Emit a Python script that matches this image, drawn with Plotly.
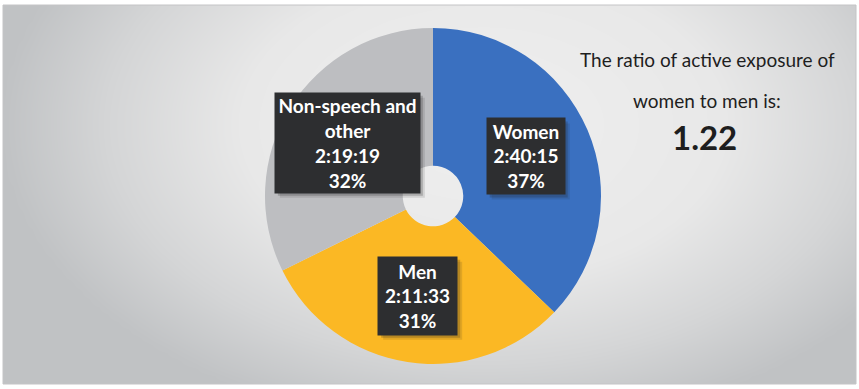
import math
import numpy as np
import plotly.graph_objects as go

# ---- data ----------------------------------------------------------------
categories = ["Women", "Men", "Non-speech and<br>other"]
durations = ["2:40:15", "2:11:33", "2:19:19"]
slice_colors = ["#3A70C0", "#FBB824", "#BDBEC1"]
ratio_lines = ["The ratio of active exposure of", "women to men is:"]


def to_seconds(hms):
    h, m, s = (int(p) for p in hms.split(":"))
    return h * 3600 + m * 60 + s


seconds = [to_seconds(d) for d in durations]
total = sum(seconds)
percents = [round(100 * v / total) for v in seconds]
ratio = seconds[0] / seconds[1]

# ---- canvas geometry (pixels) -------------------------------------------
W, H = 859, 389
frame = dict(x0=3, x1=856, y0=5, y1=384)       # framed panel, top-left origin
pie_cx, pie_cy, pie_r = 433, 196, 168          # donut centre / radius
hole = 0.18
box_sizes = [(78, 76), (79, 78), (145, 100)]   # label box width/height


def px_x(x):
    return x / W


def px_y(y):
    return 1 - y / H


fig = go.Figure()

# ---- soft radial shading behind the chart ---------------------------------
fw = frame["x1"] - frame["x0"]
fh = frame["y1"] - frame["y0"]
gx = np.linspace(0, fw, 90)
gy = np.linspace(0, fh, 50)
GX, GY = np.meshgrid(gx, gy)
shade = np.sqrt(((GX - 480) / 460) ** 2 + ((GY - 120) / 290) ** 2)
shade = np.clip(shade, 0, 1.05)
fig.add_trace(go.Heatmap(
    x=gx, y=gy, z=shade, zmin=0, zmax=1.05, zsmooth="best",
    colorscale=[[0, "#EFEFEF"], [0.5, "#E8E8E8"], [0.78, "#D4D5D6"],
                [1, "#C0C2C4"]],
    showscale=False, hoverinfo="skip", xaxis="x", yaxis="y",
))

# ---- donut ---------------------------------------------------------------
fig.add_trace(go.Pie(
    labels=categories, values=seconds, sort=False, direction="clockwise",
    rotation=0, hole=hole, textinfo="none", hoverinfo="label+percent",
    marker=dict(colors=slice_colors, line=dict(width=0)),
    domain=dict(x=[px_x(pie_cx - pie_r), px_x(pie_cx + pie_r)],
                y=[px_y(pie_cy + pie_r), px_y(pie_cy - pie_r)]),
    showlegend=False,
))

# ---- dark label boxes at each slice's mid angle ---------------------------
label_font = dict(family="Lato, 'Open Sans', sans-serif", size=19,
                  color="white")
cum = 0
for name, dur, pct, v, (bw, bh) in zip(categories, durations, percents,
                                       seconds, box_sizes):
    mid = (cum + v / 2) / total * 2 * math.pi
    cum += v
    r_lab = 0.60 * pie_r
    lx = pie_cx + r_lab * math.sin(mid)
    ly = pie_cy - r_lab * math.cos(mid)
    # soft drop shadow (two layered rectangles)
    for off, alpha in [(5, 0.12), (3, 0.22)]:
        fig.add_shape(
            type="rect", xref="paper", yref="paper", layer="above",
            x0=px_x(lx - bw / 2 + off), x1=px_x(lx + bw / 2 + off),
            y0=px_y(ly + bh / 2 + off), y1=px_y(ly - bh / 2 + off),
            fillcolor=f"rgba(30,30,30,{alpha})", line=dict(width=0),
        )
    fig.add_annotation(
        x=px_x(lx), y=px_y(ly), xref="paper", yref="paper",
        xanchor="center", yanchor="middle",
        text=f"<b>{name}<br>{dur}<br>{pct}%</b>",
        showarrow=False, font=label_font, bgcolor="#2D2E30",
        width=bw, height=bh, borderpad=0, align="center", valign="middle",
    )

# ---- ratio note on the right ----------------------------------------------
note_font = dict(family="Lato, 'Open Sans', sans-serif", size=19,
                 color="#1E1E1E")
for txt, y in zip(ratio_lines, [60, 100]):
    fig.add_annotation(x=px_x(707), y=px_y(y), xref="paper", yref="paper",
                       xanchor="center", yanchor="middle",
                       text=txt, showarrow=False, font=note_font)
fig.add_annotation(x=px_x(704), y=px_y(137), xref="paper", yref="paper",
                   xanchor="center", yanchor="middle",
                   text=f"<b>{ratio:.2f}</b>", showarrow=False,
                   font=dict(note_font, size=33))

# ---- frame outline ---------------------------------------------------------
fig.add_shape(type="rect", xref="paper", yref="paper",
              x0=px_x(frame["x0"]), x1=px_x(frame["x1"]),
              y0=px_y(frame["y1"]), y1=px_y(frame["y0"]),
              line=dict(color="#C4C4C6", width=1), layer="above")

fig.update_layout(
    width=W, height=H, margin=dict(l=0, r=0, t=0, b=0),
    paper_bgcolor="white", plot_bgcolor="white",
    xaxis=dict(domain=[px_x(frame["x0"]), px_x(frame["x1"])],
               range=[0, fw], visible=False, fixedrange=True),
    yaxis=dict(domain=[px_y(frame["y1"]), px_y(frame["y0"])],
               range=[fh, 0], visible=False, fixedrange=True),
)

fig.write_html("out.html")
